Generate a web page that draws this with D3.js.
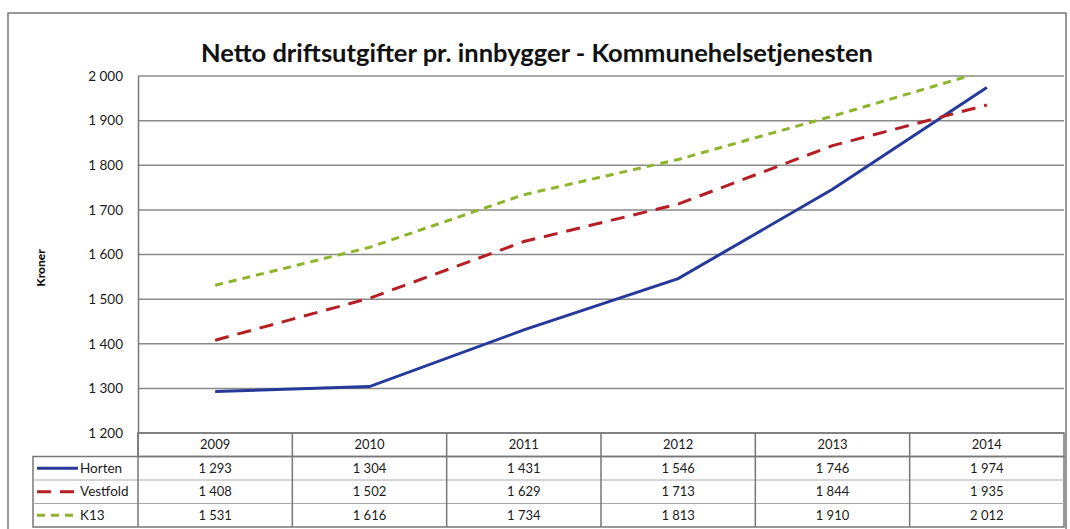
<!DOCTYPE html>
<html>
<head>
<meta charset="utf-8">
<script src="https://cdn.jsdelivr.net/npm/d3@7"></script>
<style>
  body { margin: 0; background: #fff; }
  text { font-family: Lato, "Open Sans", sans-serif; }
</style>
</head>
<body>
<div id="chart"></div>
<script>
const years = ["2009", "2010", "2011", "2012", "2013", "2014"];
const horten = [1293, 1304, 1431, 1546, 1746, 1974];
const vestfold = [1408, 1502, 1629, 1713, 1844, 1935];
const k13 = [1531, 1616, 1734, 1813, 1910, 2012];
const yTicks = [1200, 1300, 1400, 1500, 1600, 1700, 1800, 1900, 2000];

const series = [
    { name: "Horten", values: horten, color: "#25399a", dash: null },
    { name: "Vestfold", values: vestfold, color: "#b51f24", dash: "14,9" },
    { name: "K13", values: k13, color: "#8db52c", dash: "8,6" }
];

const width = 1070, height = 529;
const plot = { left: 138, right: 1064, top: 76, bottom: 433 };
const rowH = 23.5;

const svg = d3.select("#chart").append("svg")
    .attr("width", width)
    .attr("height", height);

// outer frame
svg.append("path")
    .attr("d", `M8,${height} V13 H1066 V${height}`)
    .attr("fill", "none")
    .attr("stroke", "#777")
    .attr("stroke-width", 1.5);

svg.append("text")
    .attr("x", 537)
    .attr("y", 62)
    .attr("text-anchor", "middle")
    .attr("font-size", 25.5)
    .attr("font-weight", 700)
    .attr("fill", "#111")
    .text("Netto driftsutgifter pr. innbygger - Kommunehelsetjenesten");

const x = d3.scaleBand()
    .domain(years)
    .range([plot.left, plot.right]);

const y = d3.scaleLinear()
    .domain([1200, 2000])
    .range([plot.bottom, plot.top]);

const fmt = v => d3.format(",")(v).replace(",", " ");

// gridlines
svg.append("g")
    .selectAll("line")
    .data(yTicks)
    .enter()
    .append("line")
    .attr("x1", plot.left)
    .attr("x2", plot.right)
    .attr("y1", d => y(d))
    .attr("y2", d => y(d))
    .attr("stroke", "#8a8a8a")
    .attr("stroke-width", 1.5);

// y axis
const yAxis = svg.append("g")
    .attr("transform", `translate(${plot.left},0)`)
    .call(d3.axisLeft(y).tickValues(yTicks).tickSize(0).tickPadding(15).tickFormat(fmt));
yAxis.select(".domain").attr("stroke", "#777").attr("stroke-width", 1.5);
yAxis.selectAll("text")
    .attr("font-family", "Lato, sans-serif")
    .attr("font-size", 13.5)
    .attr("fill", "#1a1a1a");

svg.append("text")
    .attr("transform", "translate(45,268) rotate(-90)")
    .attr("text-anchor", "middle")
    .attr("font-size", 12)
    .attr("font-weight", 900)
    .attr("fill", "#111")
    .text("Kroner");

// lines
svg.append("clipPath").attr("id", "plotclip")
    .append("rect")
    .attr("x", plot.left)
    .attr("y", plot.top)
    .attr("width", plot.right - plot.left)
    .attr("height", plot.bottom - plot.top);

const line = d3.line()
    .x((d, i) => x(years[i]) + x.bandwidth() / 2)
    .y(d => y(d));

svg.append("g")
    .attr("clip-path", "url(#plotclip)")
    .selectAll("path")
    .data(series)
    .enter()
    .append("path")
    .attr("d", d => line(d.values))
    .attr("fill", "none")
    .attr("stroke", d => d.color)
    .attr("stroke-width", 3)
    .attr("stroke-dasharray", d => d.dash);

// data table
const tableLeft = 33;
const tableTop = plot.bottom;
const tableBottom = tableTop + rowH * 4;
const tg = svg.append("g");

tg.append("rect")
    .attr("x", plot.left)
    .attr("y", tableTop)
    .attr("width", plot.right - plot.left)
    .attr("height", rowH)
    .attr("fill", "none")
    .attr("stroke", "#777")
    .attr("stroke-width", 1.5);
tg.append("rect")
    .attr("x", tableLeft)
    .attr("y", tableTop + rowH)
    .attr("width", plot.right - tableLeft)
    .attr("height", rowH * 3)
    .attr("fill", "none")
    .attr("stroke", "#777")
    .attr("stroke-width", 1.5);

tg.selectAll("line.rowline")
    .data(series.slice(1))
    .enter()
    .append("line")
    .attr("class", "rowline")
    .attr("x1", tableLeft)
    .attr("x2", plot.right)
    .attr("y1", (d, i) => tableTop + rowH * (i + 2))
    .attr("y2", (d, i) => tableTop + rowH * (i + 2))
    .attr("stroke", "#aaa")
    .attr("stroke-width", 1);

tg.selectAll("line.colline")
    .data(years)
    .enter()
    .append("line")
    .attr("class", "colline")
    .attr("x1", d => x(d))
    .attr("x2", d => x(d))
    .attr("y1", tableTop)
    .attr("y2", tableBottom)
    .attr("stroke", "#777")
    .attr("stroke-width", 1.5);

tg.selectAll("text.year")
    .data(years)
    .enter()
    .append("text")
    .attr("class", "year")
    .attr("x", d => x(d) + x.bandwidth() / 2)
    .attr("y", tableTop + rowH / 2)
    .attr("dy", "0.35em")
    .attr("text-anchor", "middle")
    .attr("font-size", 13)
    .attr("fill", "#1a1a1a")
    .text(d => d);

const rows = tg.selectAll("g.row")
    .data(series)
    .enter()
    .append("g")
    .attr("class", "row")
    .attr("transform", (d, i) => `translate(0,${tableTop + rowH * (i + 1)})`);

rows.append("line")
    .attr("x1", tableLeft + 4)
    .attr("x2", tableLeft + 45)
    .attr("y1", rowH / 2)
    .attr("y2", rowH / 2)
    .attr("stroke", d => d.color)
    .attr("stroke-width", 3)
    .attr("stroke-dasharray", d => d.dash);

rows.append("text")
    .attr("x", tableLeft + 47)
    .attr("y", rowH / 2)
    .attr("dy", "0.35em")
    .attr("font-size", 13.5)
    .attr("fill", "#1a1a1a")
    .text(d => d.name);

rows.selectAll("text.val")
    .data(d => d.values)
    .enter()
    .append("text")
    .attr("class", "val")
    .attr("x", (d, i) => x(years[i]) + x.bandwidth() / 2)
    .attr("y", rowH / 2)
    .attr("dy", "0.35em")
    .attr("text-anchor", "middle")
    .attr("font-size", 13)
    .attr("fill", "#1a1a1a")
    .text(fmt);
</script>
</body>
</html>
